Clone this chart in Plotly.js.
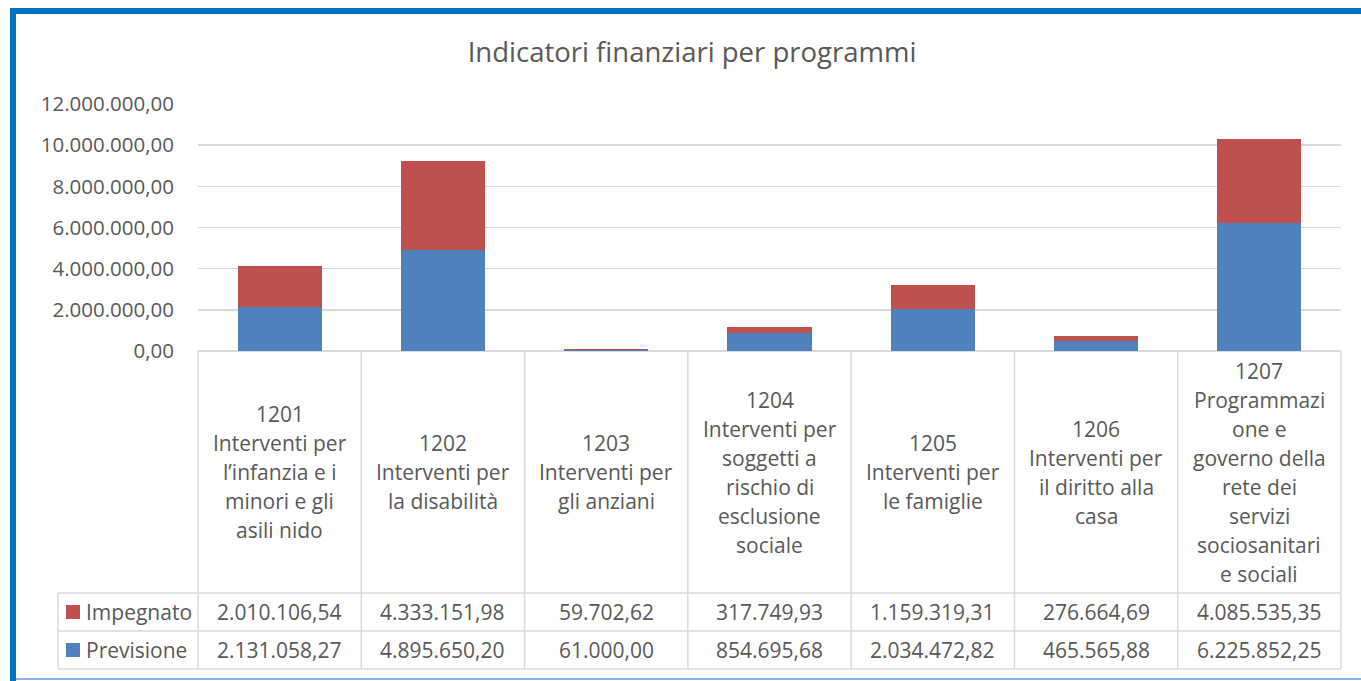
<!DOCTYPE html>
<html>
<head>
<meta charset="utf-8">
<script src="https://cdn.plot.ly/plotly-3.0.1.min.js"></script>
<style>html,body{margin:0;padding:0;background:#fff;}#chart{width:1361px;height:681px;}</style>
</head>
<body>
<div id="chart"></div>
<script>
var chartTitle = "Indicatori finanziari per programmi";
var codes = ["1201", "1202", "1203", "1204", "1205", "1206", "1207"];
var labelLines = [
  ["1201", "Interventi per", "l’infanzia e i", "minori e gli", "asili nido"],
  ["1202", "Interventi per", "la disabilità"],
  ["1203", "Interventi per", "gli anziani"],
  ["1204", "Interventi per", "soggetti a", "rischio di", "esclusione", "sociale"],
  ["1205", "Interventi per", "le famiglie"],
  ["1206", "Interventi per", "il diritto alla", "casa"],
  ["1207", "Programmazi", "one e", "governo della", "rete dei", "servizi", "sociosanitari", "e sociali"]
];
var seriesNames = ["Previsione", "Impegnato"];
var previsione = [2131058.27, 4895650.20, 61000.00, 854695.68, 2034472.82, 465565.88, 6225852.25];
var impegnato  = [2010106.54, 4333151.98, 59702.62, 317749.93, 1159319.31, 276664.69, 4085535.35];
var yTicks = [0, 2000000, 4000000, 6000000, 8000000, 10000000, 12000000];

var BLUE = "#4F81BD", RED = "#C0504D", TXT = "#595959", GRID = "#D9D9D9";
var W = 1361, H = 681, L = 198, R = 1341, T = 104, B = 351;
function px(x) { return (x - L) / (R - L); }
function py(y) { return (B - y) / (B - T); }

function fmtIt(v) {
  var s = v.toFixed(2).split(".");
  var intPart = s[0].replace(/\B(?=(\d{3})+(?!\d))/g, ".");
  return intPart + "," + s[1];
}

var n = codes.length;
var traces = [
  {type: "bar", name: seriesNames[0], x: codes, y: previsione, marker: {color: BLUE}, width: 0.515},
  {type: "bar", name: seriesNames[1], x: codes, y: impegnato, marker: {color: RED}, width: 0.515}
];

var shapes = [];
var annotations = [];
var lineStyle = {color: GRID, width: 1.5};
var yHead = 593, yRow1 = 631, yRow2 = 669, xLeg = 58;

[yHead, yRow1, yRow2].forEach(function (yy) {
  shapes.push({type: "line", xref: "paper", yref: "paper", x0: px(xLeg), x1: 1, y0: py(yy), y1: py(yy), line: lineStyle});
});
for (var i = 0; i <= n; i++) {
  shapes.push({type: "line", xref: "paper", yref: "paper", x0: i / n, x1: i / n, y0: 0, y1: py(yRow2), line: lineStyle});
}
shapes.push({type: "line", xref: "paper", yref: "paper", x0: px(xLeg), x1: px(xLeg), y0: py(yHead), y1: py(yRow2), line: lineStyle});

shapes.push({type: "rect", xref: "paper", yref: "paper", x0: px(10), x1: px(16), y0: py(8), y1: py(681), fillcolor: "#0070C0", line: {width: 0}});
shapes.push({type: "rect", xref: "paper", yref: "paper", x0: px(10), x1: px(1361), y0: py(8), y1: py(14), fillcolor: "#0070C0", line: {width: 0}});
shapes.push({type: "line", xref: "paper", yref: "paper", x0: px(16), x1: px(1361), y0: py(679), y1: py(679), line: {color: "#5B9BD5", width: 1.5}});

shapes.push({type: "rect", xref: "paper", yref: "paper", x0: px(66), x1: px(80), y0: py(605), y1: py(619), fillcolor: RED, line: {width: 0}});
shapes.push({type: "rect", xref: "paper", yref: "paper", x0: px(66), x1: px(80), y0: py(643), y1: py(657), fillcolor: BLUE, line: {width: 0}});

var FONT = "Open Sans, sans-serif";
annotations.push({xref: "paper", yref: "paper", x: px(84), y: py(612), xanchor: "left", yanchor: "middle", text: seriesNames[1], showarrow: false, font: {family: FONT, size: 21, color: TXT}});
annotations.push({xref: "paper", yref: "paper", x: px(84), y: py(650), xanchor: "left", yanchor: "middle", text: seriesNames[0], showarrow: false, font: {family: FONT, size: 21, color: TXT}});

var lineGap = 29, cellMid = (B + yHead) / 2;
for (var c = 0; c < n; c++) {
  var cx = (c + 0.5) / n;
  var lines = labelLines[c];
  var start = cellMid - (lines.length - 1) * lineGap / 2;
  for (var k = 0; k < lines.length; k++) {
    annotations.push({xref: "paper", yref: "paper", x: cx, y: py(start + k * lineGap), xanchor: "center", yanchor: "middle", text: lines[k], showarrow: false, font: {family: FONT, size: 21, color: TXT}});
  }
  annotations.push({xref: "paper", yref: "paper", x: cx, y: py(612), xanchor: "center", yanchor: "middle", text: fmtIt(impegnato[c]), showarrow: false, font: {family: FONT, size: 21, color: TXT}});
  annotations.push({xref: "paper", yref: "paper", x: cx, y: py(650), xanchor: "center", yanchor: "middle", text: fmtIt(previsione[c]), showarrow: false, font: {family: FONT, size: 21, color: TXT}});
}

var layout = {
  width: W, height: H,
  margin: {l: L, r: W - R, t: T, b: H - B, pad: 0},
  paper_bgcolor: "#fff", plot_bgcolor: "#fff",
  barmode: "stack",
  showlegend: false,
  separators: ",.",
  title: {text: chartTitle, x: 692 / W, xanchor: "center", y: 1 - 52 / H, yanchor: "middle", font: {family: FONT, size: 27.5, color: TXT}},
  xaxis: {type: "category", range: [-0.5, n - 0.5], showticklabels: false, showgrid: false, zeroline: false, showline: false, ticks: ""},
  yaxis: {range: [0, 12000000], tickvals: yTicks, ticktext: yTicks.map(fmtIt), showgrid: true, gridcolor: GRID, gridwidth: 1.5, zeroline: true, zerolinecolor: GRID, zerolinewidth: 1.5, showline: false, ticks: "", ticklabelstandoff: 23, tickfont: {family: FONT, size: 20.5, color: TXT}},
  shapes: shapes,
  annotations: annotations
};

Plotly.newPlot("chart", traces, layout, {displayModeBar: false, staticPlot: true});
</script>
</body>
</html>
